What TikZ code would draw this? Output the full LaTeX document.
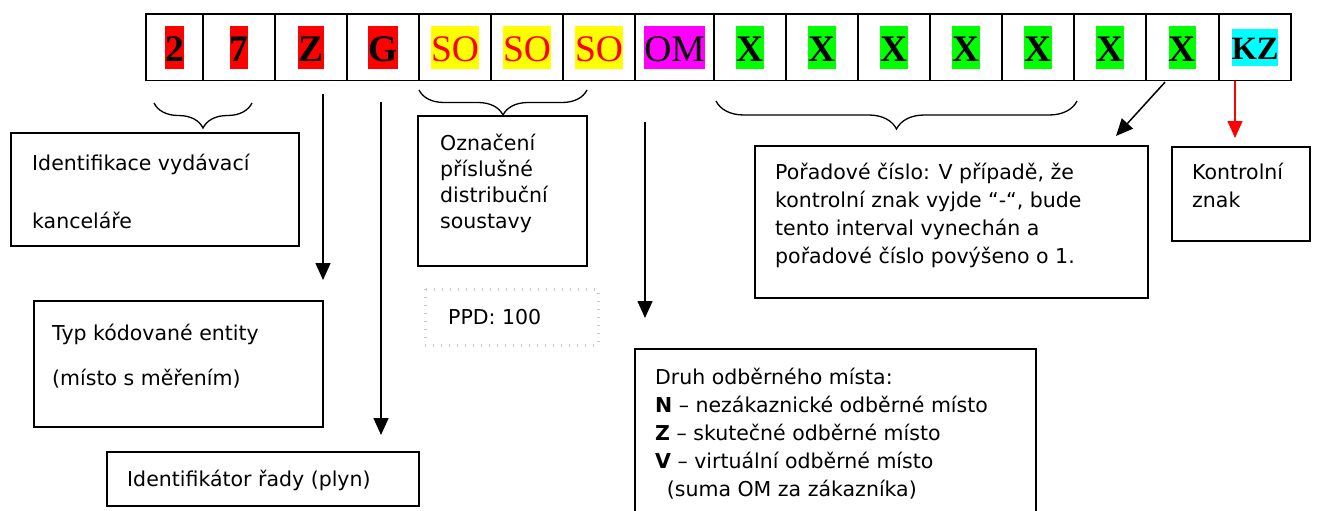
\documentclass[tikz,border=0pt]{standalone}
\usepackage{fontspec}
\setmainfont{Liberation Serif}
\newfontfamily\lblfont{DejaVu Sans}
\usepackage{xcolor}
\usetikzlibrary{arrows.meta}
\usetikzlibrary{positioning}
\usetikzlibrary{decorations.pathreplacing}

\definecolor{hlred}{RGB}{255,0,0}
\definecolor{hlyellow}{RGB}{255,255,0}
\definecolor{hlmagenta}{RGB}{255,0,255}
\definecolor{hlgreen}{RGB}{0,255,0}
\definecolor{hlcyan}{RGB}{0,255,255}

\newcommand{\hlbox}[2]{{\setlength{\fboxsep}{0pt}\colorbox{#1}{\rule[-7.5pt]{0pt}{43pt}#2}}}

\begin{document}
\begin{tikzpicture}[x=1pt, y=-1pt,
  cell/.style={draw, line width=1.5pt, outer sep=0pt, inner sep=0pt, minimum width=72pt, minimum height=66.7pt, font=\fontsize{37.5}{40}\selectfont},
  box/.style={draw, line width=1.4pt},
  lbl/.style={anchor=west, align=left, inner sep=0pt, font=\lblfont\fontsize{20.5}{28}\selectfont},
  brc/.style={decorate, decoration={brace, mirror, amplitude=#1}, line width=1.3pt},
  arr/.style={-{Triangle[length=17pt, width=15pt]}, line width=1.5pt}]

\useasboundingbox (0,0) rectangle (1319,511);

%code cells
\node[cell, minimum width=57pt] (c2) at (174.5,47.3) {\hlbox{hlred}{\bfseries 2}};
\node[cell, right=0pt of c2] (c7) {\hlbox{hlred}{\bfseries 7}};
\node[cell, right=0pt of c7] (cz) {\hlbox{hlred}{\bfseries Z}};
\node[cell, right=0pt of cz] (cg) {\hlbox{hlred}{\bfseries G}};
\node[cell, right=0pt of cg] (so1) {\hlbox{hlyellow}{\color{hlred}SO}};
\node[cell, right=0pt of so1] (so2) {\hlbox{hlyellow}{\color{hlred}SO}};
\node[cell, right=0pt of so2] (so3) {\hlbox{hlyellow}{\color{hlred}SO}};
\node[cell, minimum width=79pt, right=0pt of so3] (om) {\hlbox{hlmagenta}{OM}};
\node[cell, right=0pt of om] (x1) {\hlbox{hlgreen}{\bfseries X}};
\node[cell, right=0pt of x1] (x2) {\hlbox{hlgreen}{\bfseries X}};
\node[cell, right=0pt of x2] (x3) {\hlbox{hlgreen}{\bfseries X}};
\node[cell, right=0pt of x3] (x4) {\hlbox{hlgreen}{\bfseries X}};
\node[cell, right=0pt of x4] (x5) {\hlbox{hlgreen}{\bfseries X}};
\node[cell, right=0pt of x5] (x6) {\hlbox{hlgreen}{\bfseries X}};
\node[cell, minimum width=73pt, right=0pt of x6] (x7) {\hlbox{hlgreen}{\bfseries X}};
\node[cell, right=0pt of x7] (kz) {{\fontsize{32.5}{35}\selectfont\setlength{\fboxsep}{0pt}\colorbox{hlcyan}{\rule[-6pt]{0pt}{37pt}\bfseries KZ}}};

%braces
\draw[brc=25pt] (154,103) -- (252,103);
\draw[brc=25pt] (419,90) -- (587,90);
\draw[brc=28pt] (716,101) -- (1077,101);

%arrows
\coordinate (zfrom) at ([xshift=12pt, yshift=-13pt]cz.south);
\coordinate (zto) at (323,280);
\coordinate (gfrom) at ([xshift=-2pt, yshift=-21pt]cg.south);
\coordinate (gto) at (381,435);
\coordinate (omfrom) at ([xshift=-29.5pt, yshift=-41pt]om.south);
\coordinate (omto) at (645,318);
\coordinate (xfrom) at ([xshift=-17.5pt, yshift=-1.5pt]x7.south);
\coordinate (xto) at (1116,136);
\coordinate (kzfrom) at ([xshift=-20pt]kz.south);
\coordinate (kzto) at (1235,138);
\draw[arr] (zfrom) -- (zto);
\draw[arr] (gfrom) -- (gto);
\draw[arr] (omfrom) -- (omto);
\draw[arr] (xfrom) -- (xto);
\draw[arr, hlred, line width=1.2pt] (kzfrom) -- (kzto);

%boxes
\draw[box] (11,133) rectangle (299,246);
\draw[box] (34,301) rectangle (323,427);
\draw[box] (107,452) rectangle (419,506);
\draw[box] (418,116) rectangle (587,266);
\draw[gray!45, line width=3pt, dash pattern=on 1pt off 7pt] (425,289) rectangle (598,345);
\draw[box] (635,349) rectangle (1036,530);
\draw[box] (755,146) rectangle (1148,298);
\draw[box] (1172,147) rectangle (1310,241);

%labels
\node[lbl, font=\lblfont\fontsize{20.5}{58}\selectfont] (kancl) at (32,191) {Identifikace vydávací\\kanceláře};
\node[lbl, font=\lblfont\fontsize{20.5}{45}\selectfont] (typ) at (52,356) {Typ kódované entity\\(místo s měřením)};
\node[lbl] (rada) at (127,480) {Identifikátor řady (plyn)};
\node[lbl, font=\lblfont\fontsize{20.5}{26}\selectfont] (soust) at (440,183.6) {Označení\\příslušné\\distribuční\\soustavy};
\node[lbl] (ppd) at (448,317) {PPD: 100};
\node[lbl] (druh) at (655,433.6) {Druh odběrného místa:\\\textbf{N} – nezákaznické odběrné místo\\\textbf{Z} – skutečné odběrné místo\\\textbf{V} – virtuální odběrné místo\\\hspace*{11.7pt}(suma OM za zákazníka)};
\node[lbl] (porad) at (775,215.6) {Pořadové číslo: V případě, že\\kontrolní znak vyjde “-“, bude\\tento interval vynechán a\\pořadové číslo povýšeno o 1.};
\node[lbl] (kontr) at (1192,185.4) {Kontrolní\\znak};

\end{tikzpicture}
\end{document}
